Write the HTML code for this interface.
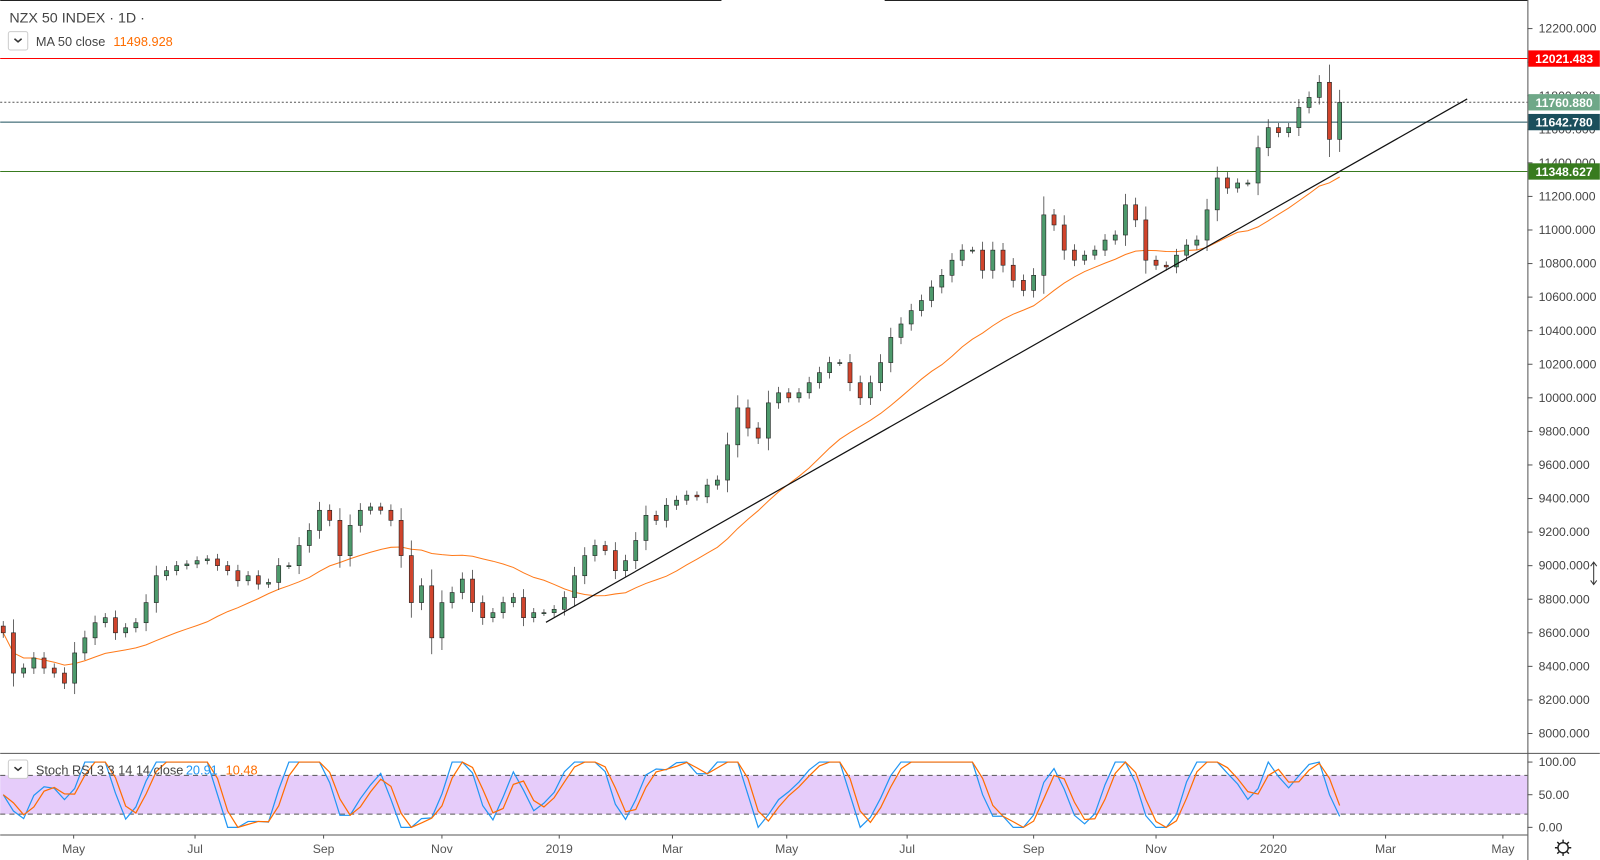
<!DOCTYPE html>
<html><head><meta charset="utf-8">
<style>
html,body{margin:0;padding:0;background:#fff;overflow:hidden}
svg{display:block;font-family:"Liberation Sans",sans-serif}
</style></head>
<body>
<svg id="chart" width="1600" height="860" viewBox="0 0 1568 843" xmlns="http://www.w3.org/2000/svg">
<rect x="0" y="0" width="1568" height="843" fill="#fff"/>
<g id="stochBg">
  <rect x="0" y="760" width="1497" height="38" fill="#e6ccfa"/>
  <line x1="0" y1="760" x2="1497" y2="760" stroke="#555" stroke-dasharray="5,4" stroke-width="1"/>
  <line x1="0" y1="798" x2="1497" y2="798" stroke="#555" stroke-dasharray="5,4" stroke-width="1"/>
</g>
<g id="grid">
  <line x1="0" y1="0.5" x2="707" y2="0.5" stroke="#222" stroke-width="1"/>
  <line x1="867" y1="0.5" x2="1497" y2="0.5" stroke="#222" stroke-width="1"/>
  <line x1="1497.5" y1="0" x2="1497.5" y2="843" stroke="#555" stroke-width="1"/>
  <line x1="0" y1="738.5" x2="1568" y2="738.5" stroke="#555" stroke-width="1"/>
  <line x1="0" y1="818.5" x2="1497" y2="818.5" stroke="#555" stroke-width="1"/>
</g>
<g id="priceAxis"></g>
<g id="timeAxis"></g>
<g id="hlines"></g>
<g id="ma"></g>
<g id="candles"></g>
<line x1="535" y1="610" x2="1438" y2="97" stroke="#111" stroke-width="1.2"/>
<g id="stoch"></g>
<g id="labels"></g>
<g>
  <text x="9" y="22" font-size="14" fill="#444">NZX 50 INDEX · 1D ·</text>
  <rect x="8" y="31" width="19" height="18" rx="2" fill="#fff" stroke="#ccc"/>
  <path d="M14 38 l3.5 3 l3.5 -3" fill="none" stroke="#333" stroke-width="1.5"/>
  <text x="35" y="45" font-size="12.5" fill="#444">MA 50 close</text>
  <text x="111" y="45" font-size="12.5" fill="#ff6d00">11498.928</text>
  <rect x="8" y="745" width="19" height="18" rx="2" fill="#fff" stroke="#ccc"/>
  <path d="M14 752 l3.5 3 l3.5 -3" fill="none" stroke="#333" stroke-width="1.5"/>
  <text x="35" y="759" font-size="12.5" fill="#444">Stoch RSI 3 3 14 14 close</text>
  <text x="182" y="759" font-size="12.5" fill="#2196f3">20.91</text>
  <text x="221" y="759" font-size="12.5" fill="#ff6d00">10.48</text>
  <g transform="translate(1532,831)">
    <circle r="5" fill="none" stroke="#222" stroke-width="1.4"/>
    <path d="M0 -8V-5M0 5V8M-8 0H-5M5 0H8M-5.7 -5.7L-3.5 -3.5M3.5 3.5L5.7 5.7M-5.7 5.7L-3.5 3.5M3.5 -3.5L5.7 -5.7" stroke="#222" stroke-width="1.4"/>
  </g>
  <path d="M1562 552v20M1559 555l3-4 3 4M1559 569l3 4 3-4" stroke="#333" fill="none"/>
</g>
<script>
const closes = [8600,8360,8390,8450,8390,8360,8300,8480,8570,8660,8690,8600,8630,8660,8780,8940,8970,9000,9010,9030,
9040,9000,8970,8910,8940,8890,8900,9000,9000,9120,9210,9330,9270,9060,9240,9330,9350,9330,9270,9060,
8780,8880,8570,8780,8840,8920,8780,8690,8720,8780,8810,8690,8720,8720,8740,8810,8940,9060,9120,9090,
8970,9030,9150,9300,9270,9360,9390,9420,9410,9480,9510,9720,9940,9820,9760,9970,10030,10000,10030,10090,
10150,10210,10210,10090,10000,10090,10210,10360,10440,10520,10580,10660,10730,10820,10880,10880,10760,10880,10790,10700,
10640,10730,11090,11030,10880,10820,10850,10880,10940,10970,11150,11060,10820,10790,10780,10850,10910,10940,11120,11310,
11250,11280,11280,11490,11610,11580,11610,11730,11790,11880,11540,11760];
const priceTicks = [8000,8200,8400,8600,8800,9000,9200,9400,9600,9800,10000,10200,10400,10600,10800,11000,11200,11400,11600,11800,12000,12200];
const stochTicks = [0,50,100];
const monthLabels = ["May","Jul","Sep","Nov","2019","Mar","May","Jul","Sep","Nov","2020","Mar","May"];
const monthBarIdx = [6.9,18.8,31.4,43,54.5,65.6,76.8,88.6,101,113,124.5,135.5,147];
const levels = [12021.483, 11760.88, 11642.78, 11348.627];

const NS="http://www.w3.org/2000/svg";
function mk(tag, attrs, parent){const e=document.createElementNS(NS,tag);for(const k in attrs)e.setAttribute(k,attrs[k]);parent.appendChild(e);return e;}
const yP = p => 719 - (p-8000)*0.16452;
const xB = i => 3 + i*10;
const yS = v => 811 - v*0.64;

const pa=document.getElementById('priceAxis');
priceTicks.forEach(p=>{
  const l=mk('line',{x1:1497,x2:1502,y1:yP(p),y2:yP(p),stroke:'#555'},pa);
  
  
  const t=mk('text',{x:1508,y:yP(p)+4,'font-size':12,fill:'#444'},pa);
  
  
  t.textContent=p.toFixed(3);
});
stochTicks.forEach(v=>{
  mk('line',{x1:1497,x2:1502,y1:yS(v),y2:yS(v),stroke:'#555'},pa);
  const t=mk('text',{x:1508,y:yS(v)+4,'font-size':12,fill:'#444'},pa);
  
  
  t.textContent=v.toFixed(2);
});
const ta=document.getElementById('timeAxis');
monthLabels.forEach((m,i)=>{
  const x=xB(monthBarIdx[i]);
  mk('line',{x1:x,x2:x,y1:818,y2:822,stroke:'#555'},ta);
  const t=mk('text',{x:x,y:836,'font-size':12,fill:'#555','text-anchor':'middle'},ta);
  
  
  t.textContent=m;
});
const hl=document.getElementById('hlines'), lb=document.getElementById('labels');
const lvStyle=[['#ff0000',null,'#ff0000'],['#555','2,2','#6fa888'],['#1b4f5c',null,'#1b4f5c'],['#387b1f',null,'#387b1f']];
levels.forEach((p,i)=>{
  const y=yP(p);
  const l=mk('line',{x1:0,x2:1497,y1:y,y2:y,stroke:lvStyle[i][0],'stroke-width':1},hl);
  if(lvStyle[i][1]) l.setAttribute('stroke-dasharray',lvStyle[i][1]);
  
  
  const r=mk('rect',{x:1498,y:y-8,width:70,height:16,fill:lvStyle[i][2]},lb);
  
  
  const t=mk('text',{x:1533,y:y+4.5,'font-size':12,'font-weight':'bold',fill:'#fff','text-anchor':'middle'},lb);
  t.textContent=p.toFixed(3);
});
const cg=document.getElementById('candles');
closes.forEach((c,i)=>{
  const o = i===0 ? c+40 : closes[i-1];
  const up = c>=o;
  const hi=Math.max(o,c)+20+Math.abs(c-o)*0.25, lo=Math.min(o,c)-20-Math.abs(c-o)*0.25;
  const x=xB(i);
  mk('line',{x1:x,x2:x,y1:yP(hi),y2:yP(lo),stroke:'#444','stroke-width':0.8},cg);
  const top=yP(Math.max(o,c)), h=Math.max(1,yP(Math.min(o,c))-top);
  const r=mk('rect',{x:x-2,y:top,width:4,height:h,fill:up?'#4d9a6c':'#d0442c',stroke:'#222','stroke-width':0.6},cg);
  
  
});
const maG=document.getElementById('ma');
let maPts=[];
closes.forEach((c,i)=>{
  const s=Math.max(0,i-19); const w=closes.slice(s,i+1);
  const v=w.reduce((a,b)=>a+b,0)/w.length;
  maPts.push(xB(i)+','+yP(v).toFixed(1));
});
const mp=mk('polyline',{points:maPts.join(' '),fill:'none',stroke:'#ff7a1a','stroke-width':1},maG);


const rsiLen=5, stLen=5;
let rsi=[], ag=0, al=0;
closes.forEach((c,i)=>{
  if(i===0){rsi.push(50);return;}
  const d=c-closes[i-1], g=Math.max(d,0), l=Math.max(-d,0);
  ag=(ag*(rsiLen-1)+g)/rsiLen; al=(al*(rsiLen-1)+l)/rsiLen;
  rsi.push(al===0?100:100-100/(1+ag/al));
});
let st=rsi.map((r,i)=>{const w=rsi.slice(Math.max(0,i-stLen+1),i+1);const mn=Math.min(...w),mx=Math.max(...w);return mx===mn?50:(r-mn)/(mx-mn)*100;});
const sma=(a,n)=>a.map((v,i)=>{const w=a.slice(Math.max(0,i-n+1),i+1);return w.reduce((x,y)=>x+y,0)/w.length;});
const K=sma(st,2), D=sma(K,2);
const sg=document.getElementById('stoch');
const kp=mk('polyline',{points:K.map((v,i)=>xB(i)+','+yS(v).toFixed(1)).join(' '),fill:'none',stroke:'#2196f3','stroke-width':1.2},sg);


const dp=mk('polyline',{points:D.map((v,i)=>xB(i)+','+yS(v).toFixed(1)).join(' '),fill:'none',stroke:'#ff6d00','stroke-width':1.2},sg);


</script>
</svg>
</body></html>
